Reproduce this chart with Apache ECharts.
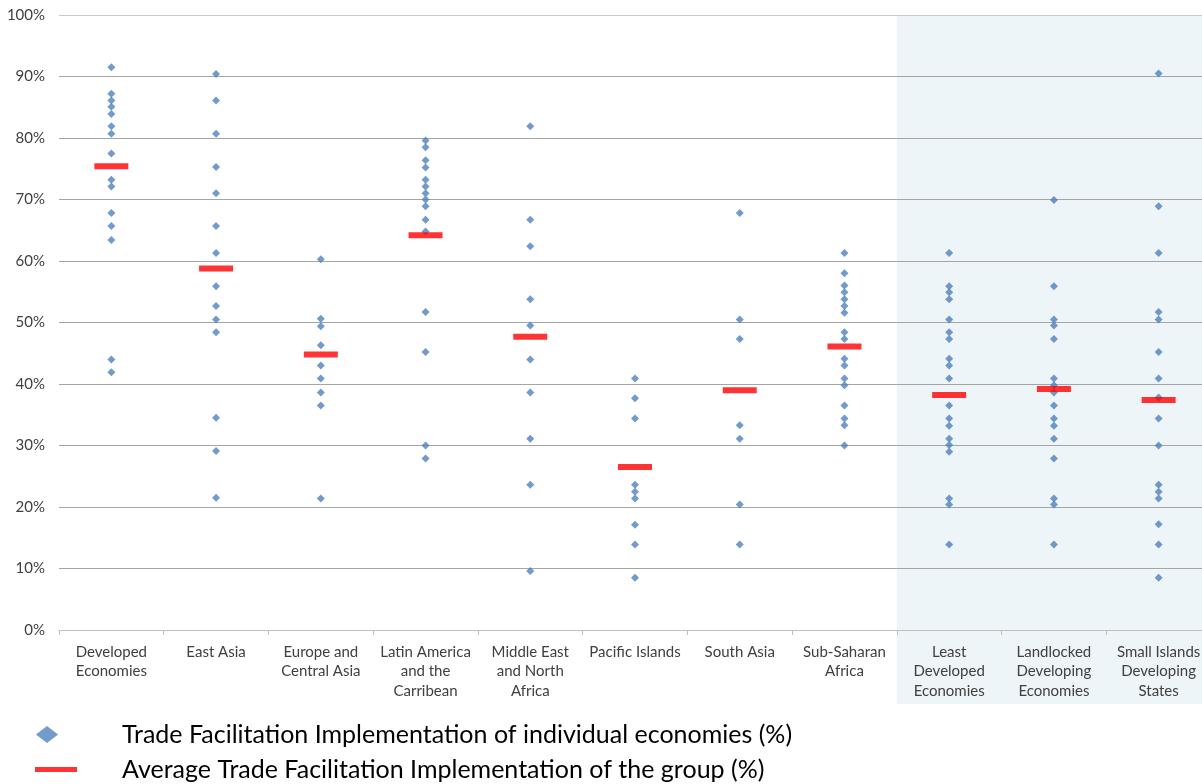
<!DOCTYPE html>
<html>
<head>
<meta charset="utf-8">
<script src="https://cdn.jsdelivr.net/npm/echarts@6/dist/echarts.min.js"></script>
<style>
html,body{margin:0;padding:0;background:#fff;overflow:hidden;}
#c{width:1211px;height:784px;}
</style>
</head>
<body>
<div id="c"></div>
<script>
var categories = ["Developed\nEconomies", "East Asia", "Europe and\nCentral Asia", "Latin America\nand the\nCarribean", "Middle East\nand North\nAfrica", "Pacific Islands", "South Asia", "Sub-Saharan\nAfrica", "Least\nDeveloped\nEconomies", "Landlocked\nDeveloping\nEconomies", "Small Islands\nDeveloping\nStates"];

var developed = [91.5, 87.2, 86.1, 85.1, 83.9, 81.9, 80.7, 77.5, 73.2, 72.1, 67.8, 65.7, 63.4, 44.0, 41.9];
var eastAsia = [90.4, 86.1, 80.7, 75.3, 71.0, 65.7, 61.3, 55.9, 52.7, 50.5, 48.4, 34.5, 29.1, 21.5];
var europeCentralAsia = [60.3, 50.6, 49.4, 46.3, 43.0, 40.9, 38.6, 36.5, 21.4];
var latinAmerica = [79.6, 78.5, 76.4, 75.2, 73.2, 72.1, 71.0, 70.0, 68.9, 66.7, 64.8, 51.7, 45.2, 30.0, 27.9];
var middleEast = [81.9, 66.7, 62.4, 53.8, 49.5, 44.0, 38.6, 31.1, 23.6, 9.6];
var pacificIslands = [40.9, 37.7, 34.4, 23.6, 22.5, 21.4, 17.1, 13.9, 8.5];
var southAsia = [67.8, 50.5, 47.3, 33.3, 31.1, 20.4, 13.9];
var subSaharan = [61.3, 58.0, 56.0, 54.9, 53.8, 52.7, 51.6, 48.4, 47.3, 44.1, 43.0, 40.9, 39.8, 36.5, 34.4, 33.3, 30.0];
var leastDeveloped = [61.3, 55.9, 54.9, 53.8, 50.5, 48.4, 47.3, 44.1, 43.0, 40.9, 36.5, 34.4, 33.2, 31.1, 30.1, 29.0, 21.4, 20.4, 13.9];
var landlocked = [69.9, 55.9, 50.5, 49.5, 47.3, 40.9, 39.8, 38.6, 36.5, 34.4, 33.2, 31.1, 27.9, 21.4, 20.4, 13.9];
var smallIslands = [90.5, 68.9, 61.3, 51.7, 50.5, 45.2, 40.9, 37.8, 34.4, 30.0, 23.6, 22.5, 21.4, 17.2, 13.9, 8.5];

var averages = [75.4, 58.8, 44.8, 64.2, 47.7, 26.5, 39.0, 46.1, 38.2, 39.2, 37.4];

var yTicks = [0, 10, 20, 30, 40, 50, 60, 70, 80, 90, 100];
var shadedFromIndex = 8;

var seriesIndividualName = "Trade Facilitation Implementation of individual economies (%)";
var seriesAverageName = "Average Trade Facilitation Implementation of the group (%)";

var groups = [developed, eastAsia, europeCentralAsia, latinAmerica, middleEast, pacificIslands, southAsia, subSaharan, leastDeveloped, landlocked, smallIslands];
var pointData = [];
groups.forEach(function (g, i) {
  g.forEach(function (v) { pointData.push([i, v]); });
});
var avgData = averages.map(function (v, i) { return [i, v]; });

var FONT = "Lato, 'Open Sans', sans-serif";

var chart = echarts.init(document.getElementById('c'), null, {renderer: 'canvas'});
var option = {
  animation: false,
  backgroundColor: '#ffffff',
  grid: {left: 59, top: 15, right: 0, bottom: 154, containLabel: false},
  xAxis: {
    type: 'category',
    data: categories,
    boundaryGap: true,
    axisLine: {lineStyle: {color: '#BFBFBF', width: 1}},
    axisTick: {show: true, length: 5, lineStyle: {color: '#BFBFBF'}},
    axisLabel: {
      interval: 0,
      color: '#404040',
      fontFamily: FONT,
      fontSize: 15,
      lineHeight: 19.5,
      margin: 12
    },
    splitLine: {show: false}
  },
  yAxis: {
    type: 'value',
    min: yTicks[0],
    max: yTicks[yTicks.length - 1],
    interval: 10,
    axisLine: {show: false},
    axisTick: {show: false},
    axisLabel: {
      formatter: '{value}%',
      color: '#404040',
      fontFamily: FONT,
      fontSize: 15,
      margin: 14
    },
    splitLine: {
      show: true,
      lineStyle: {color: ['#BFBFBF', '#A5A5A5', '#A5A5A5', '#A5A5A5', '#A5A5A5', '#A5A5A5', '#A5A5A5', '#A5A5A5', '#A5A5A5', '#A5A5A5', '#C8C8C8'], width: 1}
    }
  },
  legend: [
    {
      data: [{name: seriesIndividualName, icon: 'diamond'}],
      left: 36,
      top: 722,
      padding: 0,
      itemWidth: 22,
      itemHeight: 17,
      textStyle: {fontFamily: FONT, fontSize: 25, color: '#000', padding: [0, 0, 0, 59]},
      selectedMode: false
    },
    {
      data: [{name: seriesAverageName, icon: 'rect'}],
      left: 35,
      top: 757,
      padding: 0,
      itemWidth: 42,
      itemHeight: 5,
      textStyle: {fontFamily: FONT, fontSize: 25, color: '#000', padding: [0, 0, 0, 40]},
      selectedMode: false
    }
  ],
  series: [
    {
      name: seriesIndividualName,
      type: 'scatter',
      symbol: 'diamond',
      symbolSize: 8,
      itemStyle: {color: '#4F81BD'},
      data: pointData,
      z: 3
    },
    {
      name: seriesAverageName,
      type: 'scatter',
      symbol: 'rect',
      symbolSize: [34, 6],
      itemStyle: {color: '#FF0000'},
      data: avgData,
      z: 4
    }
  ]
};
chart.setOption(option);

// shaded panel behind the last three categories (positions come from the axes)
var c0 = chart.convertToPixel({xAxisIndex: 0}, shadedFromIndex);
var c1 = chart.convertToPixel({xAxisIndex: 0}, shadedFromIndex - 1);
var band = c0 - c1;
var xStart = c0 - band / 2;
var yTop = chart.convertToPixel({yAxisIndex: 0}, yTicks[yTicks.length - 1]);
var yZero = chart.convertToPixel({yAxisIndex: 0}, 0);
chart.setOption({
  graphic: [{
    type: 'rect',
    z: -10,
    silent: true,
    shape: {x: xStart, y: yTop, width: 1211 - xStart + 10, height: (yZero - yTop) + 74},
    style: {fill: '#EDF5F8'}
  }]
});
</script>
</body>
</html>
